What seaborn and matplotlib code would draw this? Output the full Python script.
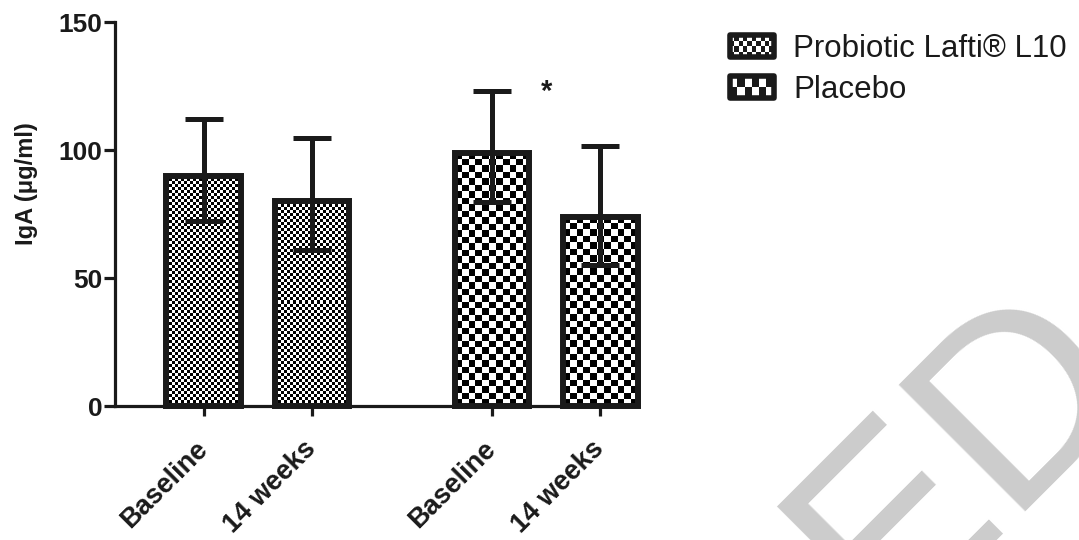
import numpy as np
import pandas as pd
import matplotlib
matplotlib.use("Agg")
import matplotlib.pyplot as plt
import seaborn as sns
from matplotlib.patches import Rectangle, Patch
from matplotlib.legend_handler import HandlerBase

# ---------------- data ----------------
groups = ["Probiotic Lafti® L10", "Probiotic Lafti® L10", "Placebo", "Placebo"]
tick_labels = ["Baseline", "14 weeks", "Baseline", "14 weeks"]
means = [90.0, 80.0, 99.0, 74.0]
upper = [112.0, 104.8, 123.0, 101.6]
lower = [72.3, 61.0, 79.8, 55.0]
legend_labels = ["Probiotic Lafti® L10", "Placebo"]
y_ticks = [0, 50, 100, 150]
star_label = "*"

# ---------------- layout ----------------
xpos = [0.0, 1.0, 2.66, 3.66]
cell_px = [3.0, 3.0, 6.5, 6.5]
INK = "#1a1a1a"

sns.set_theme(style="white")
plt.rcParams["font.family"] = ["Liberation Sans", "DejaVu Sans"]

fig = plt.figure(figsize=(10.79, 5.40), dpi=100)
ax = fig.add_axes([0.1066, 0.2481, 0.4838, 0.7111])

df = pd.DataFrame({"pos": xpos, "IgA": means, "group": groups})
sns.barplot(data=df, x="pos", y="IgA", native_scale=True, width=0.69,
            color="white", edgecolor=INK, linewidth=4.3, ax=ax,
            errorbar=None, zorder=2)

ax.set_xlim(-0.82, 4.0)
ax.set_ylim(0, 150)

# checkerboard fill for each bar
for p, c in zip(ax.patches, cell_px):
    p.set_facecolor("none")
    p.set_clip_on(False)
    x0, y0, w, h = p.get_x(), p.get_y(), p.get_width(), p.get_height()
    (px0, py0), (px1, py1) = ax.transData.transform([(x0, y0), (x0 + w, y0 + h)])
    nx = max(1, int(round(abs(px1 - px0) / c)))
    ny = max(1, int(round(abs(py1 - py0) / c)))
    ii, jj = np.indices((ny, nx))
    board = ((ii + jj) % 2).astype(float)
    im = ax.imshow(board, extent=[x0, x0 + w, y0, y0 + h], origin="lower",
                   cmap="gray", vmin=0.1, vmax=1, interpolation="nearest",
                   aspect="auto", zorder=1.5)
    im.set_clip_path(p)

ax.set_xlim(-0.82, 4.0)
ax.set_ylim(0, 150)

# error bars
yerr = [np.array(means) - np.array(lower), np.array(upper) - np.array(means)]
ax.errorbar(xpos, means, yerr=yerr, fmt="none", ecolor=INK,
            elinewidth=3.6, capsize=14, capthick=3.6, zorder=3, clip_on=False)

# axes styling
for s in ["top", "right"]:
    ax.spines[s].set_visible(False)
for s in ["left", "bottom"]:
    ax.spines[s].set_linewidth(2.3)
    ax.spines[s].set_color(INK)
ax.set_yticks(y_ticks)
ax.set_xticks(xpos)
ax.set_xticklabels(tick_labels, rotation=45, ha="right", va="center",
                   rotation_mode="anchor", fontsize=19.5, fontweight="bold",
                   color=INK)
ax.tick_params(axis="x", length=7, width=2.3, color=INK, pad=21,
               bottom=True)
ax.tick_params(axis="y", length=8, width=2.3, color=INK, pad=1,
               left=True, labelsize=19, labelcolor=INK)
for t in ax.get_yticklabels():
    t.set_fontweight("bold")
ax.set_xlabel("")
ax.set_ylabel("IgA (μg/ml)", fontsize=17, fontweight="bold", color=INK)
ax.yaxis.set_label_coords(-0.148, 0.578)
ax.grid(False)

# significance marker
ax.text(3.16, 122.5, star_label, ha="center", va="center",
        fontsize=21, fontweight="bold", color=INK)


# legend with checkerboard swatches
class CheckerHandler(HandlerBase):
    def __init__(self, nx, ny):
        super().__init__()
        self.nx, self.ny = nx, ny

    def create_artists(self, legend, orig_handle, xdescent, ydescent,
                       width, height, fontsize, trans):
        x0, y0 = -xdescent, -ydescent
        arts = [Rectangle((x0, y0), width, height, facecolor="white",
                          edgecolor="none", transform=trans)]
        cw, ch = width / self.nx, height / self.ny
        for i in range(self.nx):
            for j in range(self.ny):
                if (i + j) % 2 == 0:
                    arts.append(Rectangle((x0 + i * cw, y0 + j * ch), cw, ch,
                                          facecolor=INK, edgecolor="none",
                                          transform=trans))
        arts.append(Rectangle((x0, y0), width, height, facecolor="none",
                              edgecolor=INK, linewidth=4.0,
                              joinstyle="round", transform=trans))
        return arts


h1 = Patch(facecolor="white", edgecolor="black")
h2 = Patch(facecolor="gray", edgecolor="black")
fig.legend([h1, h2], legend_labels, loc="upper left",
           bbox_to_anchor=(0.6765, 0.937), frameon=False, fontsize=22.5,
           handlelength=1.4, handleheight=0.72, handletextpad=0.62,
           labelspacing=0.36, borderaxespad=0, borderpad=0,
           labelcolor=INK,
           handler_map={h1: CheckerHandler(10, 4), h2: CheckerHandler(6, 2)})

# watermark fragment
fig.text(883 / 1079, 1 - 633 / 540, "ED", rotation=45, rotation_mode="anchor",
         ha="left", va="baseline", fontsize=187, color="#cccccc", zorder=0)

fig.savefig("out.png", dpi=100)
